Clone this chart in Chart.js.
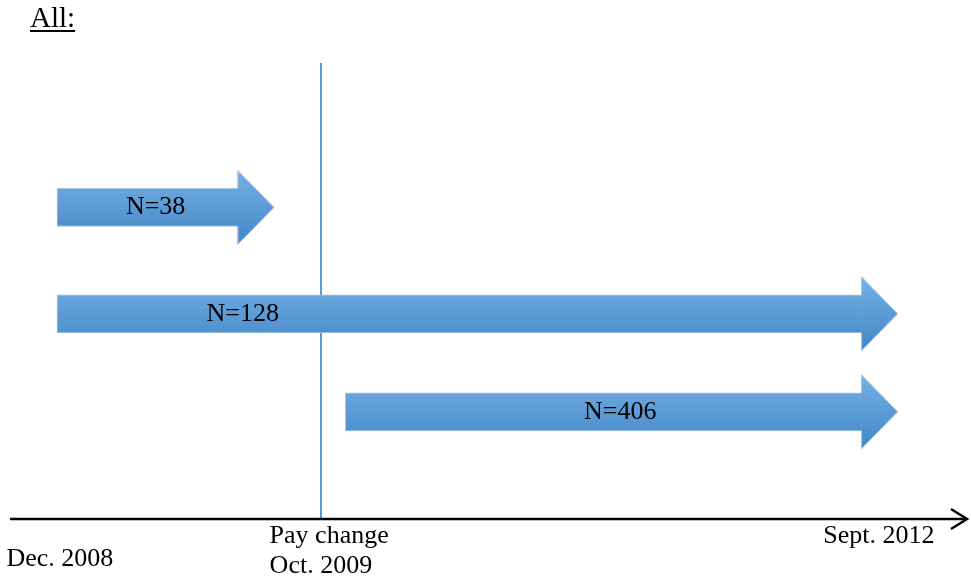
<!DOCTYPE html>
<html>
<head>
<meta charset="utf-8">
<title>All: cohorts around the pay change</title>
<script src="https://cdn.jsdelivr.net/npm/chart.js@4"></script>
<style>
  html, body { margin: 0; padding: 0; background: #ffffff; }
  #wrap { position: relative; width: 971px; height: 576px; }
</style>
</head>
<body>
<div id="wrap"><canvas id="c"></canvas></div>
<script>
// Cohorts, one arrow each (positions on an abstract 0-100 timeline)
const cohorts      = ['N=38', 'N=128', 'N=406'];
const cohortLevel  = [4.1, 2.7, 1.41];      // vertical placement (0-6)
const cohortStart  = [4.9, 4.9, 35.0];      // where each arrow begins
const cohortEnd    = [23.8, 88.9, 88.9];    // where the shaft meets the head
const cohortLabelX = [15.2, 24.3, 63.7];    // centre of each "N=" label

// Timeline milestones (the pay-change label is left-aligned at its anchor)
const milestones     = ['Dec. 2008', ['Pay change', 'Oct. 2009'], 'Sept. 2012'];
const milestoneX     = [5.2, 27.1, 90.7];
const payChangeX     = 32.5;

const titleText = 'All:';

const SERIF = '"Liberation Serif", "DejaVu Serif", serif';
const SHAFT = 38, HEAD_LEN = 36, HEAD_H = 74;

function arrowGradient(ctx, yc) {
  if (!isFinite(yc)) return '#5b9bd5';
  const g = ctx.createLinearGradient(0, yc - HEAD_H / 2, 0, yc + HEAD_H / 2);
  g.addColorStop(0, '#78b0e3');
  g.addColorStop(0.5, '#5b9bd5');
  g.addColorStop(1, '#4385c8');
  return g;
}

const diagramPlugin = {
  id: 'diagram',
  beforeDatasetsDraw(chart) {
    const { ctx, scales: { x, y }, chartArea } = chart;
    ctx.save();
    // pay-change marker
    const px = Math.round(x.getPixelForValue(payChangeX));
    ctx.strokeStyle = '#5b9bd5';
    ctx.lineWidth = 2;
    ctx.beginPath();
    ctx.moveTo(px, chartArea.top);
    ctx.lineTo(px, y.getPixelForValue(0));
    ctx.stroke();
    ctx.restore();
  },
  afterDatasetsDraw(chart) {
    const { ctx, scales: { x, y } } = chart;
    ctx.save();
    cohorts.forEach((name, i) => {
      const bx = x.getPixelForValue(cohortEnd[i]);
      const yc = y.getPixelForValue(cohortLevel[i]);
      ctx.beginPath();
      ctx.moveTo(bx - 0.5, yc - HEAD_H / 2);
      ctx.lineTo(bx + HEAD_LEN, yc);
      ctx.lineTo(bx - 0.5, yc + HEAD_H / 2);
      ctx.closePath();
      ctx.fillStyle = arrowGradient(ctx, yc);
      ctx.fill();
      ctx.strokeStyle = '#a6c8ea';
      ctx.lineWidth = 1;
      ctx.beginPath();
      ctx.moveTo(bx, yc - SHAFT / 2);
      ctx.lineTo(bx, yc - HEAD_H / 2);
      ctx.lineTo(bx + HEAD_LEN, yc);
      ctx.lineTo(bx, yc + HEAD_H / 2);
      ctx.lineTo(bx, yc + SHAFT / 2);
      ctx.stroke();
    });
    // cohort labels
    ctx.fillStyle = '#000000';
    ctx.font = '26px ' + SERIF;
    ctx.textAlign = 'center';
    ctx.textBaseline = 'alphabetic';
    cohorts.forEach((name, i) => {
      const yc = y.getPixelForValue(cohortLevel[i]);
      ctx.fillText(name, x.getPixelForValue(cohortLabelX[i]), yc + 7);
    });
    ctx.restore();
  },
  afterDraw(chart) {
    const { ctx, scales: { x, y } } = chart;
    ctx.save();
    // time axis with open arrowhead
    const ay = y.getPixelForValue(0);
    const left = x.getPixelForValue(0), right = x.getPixelForValue(100);
    ctx.strokeStyle = '#000000';
    ctx.lineWidth = 2.5;
    ctx.beginPath();
    ctx.moveTo(left, ay);
    ctx.lineTo(right - 1, ay);
    ctx.stroke();
    ctx.beginPath();
    ctx.moveTo(right - 17, ay - 10);
    ctx.lineTo(right - 1, ay);
    ctx.lineTo(right - 17, ay + 10);
    ctx.stroke();

    // milestone labels
    ctx.fillStyle = '#000000';
    ctx.font = '26px ' + SERIF;
    ctx.textBaseline = 'alphabetic';
    milestones.forEach((lab, i) => {
      const mx = x.getPixelForValue(milestoneX[i]);
      if (Array.isArray(lab)) {
        ctx.textAlign = 'left';
        lab.forEach((line, k) => ctx.fillText(line, mx, ay + 24 + k * 30));
      } else if (i === 0) {
        ctx.textAlign = 'center';
        ctx.fillText(lab, mx, ay + 47);
      } else {
        ctx.textAlign = 'center';
        ctx.fillText(lab, mx, ay + 24);
      }
    });

    // heading
    ctx.font = '29px ' + SERIF;
    ctx.textAlign = 'left';
    ctx.fillText(titleText, 30, 27);
    const w = ctx.measureText(titleText).width;
    ctx.fillRect(30, 30, w, 2);
    ctx.restore();
  }
};

new Chart(document.getElementById('c'), {
  type: 'bar',
  data: {
    datasets: [{
      label: 'Cohorts',
      data: cohorts.map((n, i) => ({ x: [cohortStart[i], cohortEnd[i]], y: cohortLevel[i] })),
      barThickness: SHAFT,
      backgroundColor: (c) => {
        const ch = c.chart;
        if (!c.raw || !ch.scales || !ch.scales.y) return '#5b9bd5';
        return arrowGradient(ch.ctx, ch.scales.y.getPixelForValue(c.raw.y));
      },
      borderColor: '#a6c8ea',
      borderWidth: { top: 1, bottom: 1, left: 1, right: 0 },
      borderSkipped: false
    }]
  },
  options: {
    indexAxis: 'y',
    responsive: true,
    maintainAspectRatio: false,
    animation: false,
    layout: { padding: { left: 10, right: 3, top: 63, bottom: 57 } },
    scales: {
      x: { type: 'linear', min: 0, max: 100, display: false, offset: false },
      y: { type: 'linear', min: 0, max: 6, display: false, offset: false }
    },
    plugins: {
      legend: { display: false },
      tooltip: { enabled: false },
      title: { display: false }
    }
  },
  plugins: [diagramPlugin]
});
</script>
</body>
</html>
